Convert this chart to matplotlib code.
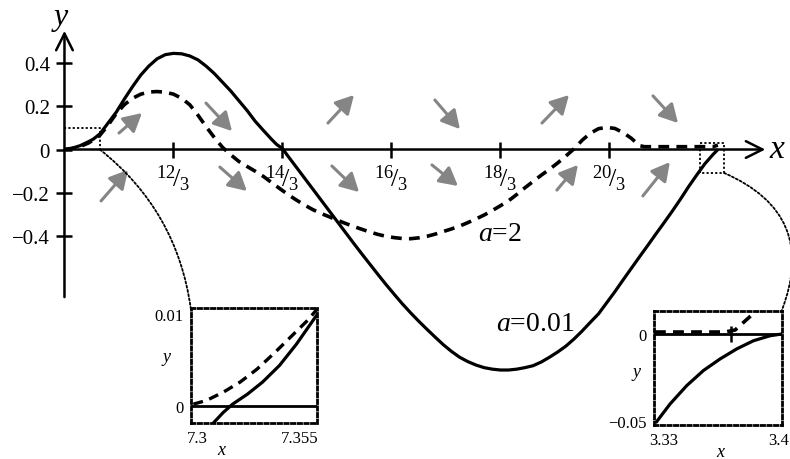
import matplotlib.pyplot as plt
from matplotlib.patches import ConnectionPatch

plt.rcParams['font.family'] = ['Liberation Serif', 'DejaVu Serif']
plt.rcParams['mathtext.fontset'] = 'custom'
plt.rcParams['mathtext.rm'] = 'Liberation Serif'
plt.rcParams['mathtext.it'] = 'Liberation Serif:italic'

# curve a=0.01 (solid)
x_small = [3.333, 3.38, 3.43, 3.48, 3.51, 3.55, 3.60, 3.65, 3.70, 3.75,
           3.80, 3.85, 3.90, 3.95, 4.00, 4.05, 4.10, 4.15, 4.20, 4.25,
           4.30, 4.35, 4.40, 4.45, 4.50, 4.55, 4.60, 4.63, 4.667, 4.70,
           4.75, 4.80, 4.85, 4.90, 4.95, 5.00, 5.05, 5.10, 5.15, 5.20,
           5.25, 5.30, 5.35, 5.40, 5.45, 5.50, 5.55, 5.60, 5.65, 5.70,
           5.75, 5.80, 5.85, 5.90, 5.95, 6.00, 6.05, 6.10, 6.15, 6.20,
           6.25, 6.30, 6.35, 6.40, 6.45, 6.50, 6.55, 6.60, 6.65, 6.70,
           6.75, 6.80, 6.85, 6.90, 6.95, 7.00, 7.05, 7.10, 7.15, 7.20,
           7.25, 7.30, 7.33]
y_small = [0.0, 0.006, 0.018, 0.036, 0.048, 0.072, 0.122, 0.172, 0.233, 0.290,
           0.343, 0.385, 0.418, 0.437, 0.443, 0.441, 0.431, 0.413, 0.384, 0.350,
           0.310, 0.270, 0.225, 0.180, 0.130, 0.088, 0.047, 0.024, 0.004, -0.030,
           -0.080, -0.130, -0.180, -0.230, -0.280, -0.330, -0.380, -0.430, -0.479, -0.527,
           -0.575, -0.622, -0.667, -0.711, -0.752, -0.791, -0.828, -0.864, -0.899, -0.930,
           -0.957, -0.977, -0.993, -1.005, -1.012, -1.016, -1.016, -1.012, -1.005, -0.996,
           -0.979, -0.957, -0.933, -0.906, -0.873, -0.836, -0.796, -0.757, -0.706, -0.655,
           -0.601, -0.548, -0.495, -0.443, -0.390, -0.338, -0.285, -0.230, -0.172, -0.118,
           -0.066, -0.023, 0.0]

# curve a=2 (dashed)
x_big = [3.333, 3.38, 3.43, 3.48, 3.51, 3.55, 3.60, 3.65, 3.70, 3.75,
         3.80, 3.85, 3.90, 3.95, 4.00, 4.05, 4.10, 4.15, 4.20, 4.25,
         4.30, 4.35, 4.40, 4.45, 4.50, 4.55, 4.60, 4.65, 4.70, 4.75,
         4.80, 4.85, 4.90, 4.95, 5.00, 5.05, 5.10, 5.15, 5.20, 5.25,
         5.30, 5.35, 5.40, 5.45, 5.50, 5.55, 5.60, 5.65, 5.70, 5.75,
         5.80, 5.85, 5.90, 5.95, 6.00, 6.05, 6.10, 6.15, 6.20, 6.25,
         6.30, 6.35, 6.40, 6.45, 6.50, 6.55, 6.60, 6.65, 6.70, 6.75,
         6.80, 6.85, 6.88, 7.30, 7.33]
y_big = [0.0, 0.005, 0.014, 0.030, 0.044, 0.066, 0.112, 0.166, 0.207, 0.236,
         0.255, 0.265, 0.267, 0.264, 0.255, 0.236, 0.206, 0.158, 0.105, 0.055,
         0.010, -0.024, -0.055, -0.078, -0.100, -0.124, -0.152, -0.180, -0.207, -0.232,
         -0.255, -0.276, -0.294, -0.309, -0.325, -0.340, -0.354, -0.367, -0.380, -0.391,
         -0.400, -0.406, -0.410, -0.411, -0.407, -0.400, -0.390, -0.378, -0.366, -0.353,
         -0.337, -0.320, -0.302, -0.281, -0.259, -0.236, -0.207, -0.176, -0.147, -0.118,
         -0.091, -0.062, -0.030, 0.003, 0.043, 0.075, 0.096, 0.102, 0.097, 0.078,
         0.052, 0.018, 0.013, 0.013, 0.02]

# direction arrows: tail and head
arrow_x0 = [3.667, 4.199, 4.945, 5.599, 6.254, 6.933, 3.557, 4.284, 4.969, 5.581, 6.345, 6.871]
arrow_y0 = [0.076, 0.214, 0.122, 0.228, 0.122, 0.247, -0.237, -0.081, -0.076, -0.071, -0.187, -0.214]
arrow_x1 = [3.807, 4.358, 5.104, 5.752, 6.419, 7.086, 3.722, 4.449, 5.135, 5.740, 6.474, 7.036]
arrow_y1 = [0.168, 0.085, 0.251, 0.094, 0.251, 0.122, -0.094, -0.191, -0.196, -0.168, -0.071, -0.058]

xticks = [4, 14 / 3, 16 / 3, 6, 20 / 3]
xtick_labels = [r'${}^{12}\!/_{3}$', r'${}^{14}\!/_{3}$', r'${}^{16}\!/_{3}$',
                r'${}^{18}\!/_{3}$', r'${}^{20}\!/_{3}$']
yticks = [0.4, 0.2, 0, -0.2, -0.4]
ytick_labels = ['0.4', '0.2', '0', '\u22120.2', '\u22120.4']

# left zoom inset
ins1_x_dash = [7.298, 7.305, 7.314, 7.323, 7.332, 7.341, 7.350, 7.359, 7.364]
ins1_y_dash = [0.0002, 0.0006, 0.0015, 0.0026, 0.0040, 0.0057, 0.0075, 0.0093, 0.0105]
ins1_x_solid = [7.308, 7.314, 7.319, 7.327, 7.335, 7.344, 7.353, 7.364]
ins1_y_solid = [-0.0020, -0.0007, 0.0002, 0.0013, 0.0026, 0.0044, 0.0067, 0.0099]

# right zoom inset
ins2_x_dash = [3.3245, 3.3674, 3.3735, 3.3796, 3.3870]
ins2_y_dash = [0.00115, 0.00115, 0.0023, 0.0075, 0.0138]
ins2_x_solid = [3.3255, 3.3337, 3.3439, 3.3541, 3.3643, 3.3745, 3.3847, 3.3949, 3.4021]
ins2_y_solid = [-0.0506, -0.0404, -0.0298, -0.0211, -0.0144, -0.0086, -0.0039, -0.0010, 0.0]
ins2_tick = 3.3708

gray = '#858585'
dash = (0, (3, 2))
dot = (0, (1.2, 1.2))

fig = plt.figure(figsize=(7.9, 4.6), dpi=100)
ax = fig.add_axes([0, 0, 1, 1])
ax.set_xlim(2.939, 7.771)
ax.set_ylim(-1.426, 0.6935)
for s in ax.spines.values():
    s.set_visible(False)
ax.spines['left'].set_position(('data', 10 / 3))
ax.spines['bottom'].set_position(('data', 0))
ax.set_xticks(xticks, xtick_labels, fontsize=19)
ax.set_yticks(yticks, ytick_labels, fontsize=15)
ax.tick_params(direction='inout', length=11, width=1.8)
ax.tick_params(axis='x', pad=4)
ax.tick_params(axis='y', pad=5)

# axes with open arrow heads
ax.annotate('', xy=(7.62, 0), xytext=(10 / 3, 0),
            arrowprops=dict(arrowstyle='->,head_length=0.6,head_width=0.3', lw=1.8,
                            color='k', mutation_scale=20, shrinkA=0, shrinkB=0))
ax.annotate('', xy=(10 / 3, 0.547), xytext=(10 / 3, -0.68),
            arrowprops=dict(arrowstyle='->,head_length=0.6,head_width=0.3', lw=1.8,
                            color='k', mutation_scale=20, shrinkA=0, shrinkB=0))
ax.text(7.688, 0.005, 'x', style='italic', fontsize=24, ha='center', va='center')
ax.text(3.31, 0.615, 'y', style='italic', fontsize=23, ha='center', va='center')

ax.plot(x_small, y_small, color='k', lw=2.3, solid_capstyle='butt')
ax.plot(x_big, y_big, color='k', lw=2.6, linestyle=dash)

for x0, y0, x1, y1 in zip(arrow_x0, arrow_y0, arrow_x1, arrow_y1):
    ax.annotate('', xy=(x1, y1), xytext=(x0, y0),
                arrowprops=dict(arrowstyle='-|>,head_length=0.55,head_width=0.3', lw=2.2,
                                color=gray, mutation_scale=20, shrinkA=0, shrinkB=0))

ax.text(5.86, -0.415, r'$a$=2', fontsize=20, ha='left', va='baseline')
ax.text(5.975, -0.83, r'$a$=0.01', fontsize=20, ha='left', va='baseline')

# zoom boxes on main plot
ax.plot([10 / 3, 3.55, 3.55], [0.099, 0.099, 0], color='k', lw=1.3, linestyle=dot)
ax.plot([7.221, 7.368, 7.368, 7.221, 7.221], [0.030, 0.030, -0.108, -0.108, 0.030],
        color='k', lw=1.3, linestyle=dot)

# left inset
ins1 = fig.add_axes([190.7 / 790, 1 - 424 / 460, 126 / 790, 115 / 460])
ins1.set_xlim(7.2966, 7.3639)
ins1.set_ylim(-0.00185, 0.01065)
ins1.axhline(0, color='k', lw=2)
ins1.plot(ins1_x_dash, ins1_y_dash, color='k', lw=2.4, linestyle=dash)
ins1.plot(ins1_x_solid, ins1_y_solid, color='k', lw=2.3)
ins1.set_xticks([7.3, 7.355], ['7.3', '7.355'], fontsize=12)
ins1.set_yticks([0, 0.01], ['0', '0.01'], fontsize=12)
ins1.tick_params(length=0, pad=5)
ins1.set_xlabel('x', style='italic', fontsize=13)
ins1.xaxis.set_label_coords(0.246, -0.16)
ins1.set_ylabel('y', style='italic', fontsize=13, rotation=0)
ins1.yaxis.set_label_coords(-0.19, 0.5)

# right inset
ins2 = fig.add_axes([654 / 790, 1 - 426 / 460, 127.7 / 790, 114.3 / 460])
ins2.set_xlim(3.3239, 3.402)
ins2.set_ylim(-0.0525, 0.01344)
ins2.axhline(0, color='k', lw=2)
ins2.plot(ins2_x_dash, ins2_y_dash, color='k', lw=2.6, linestyle=dash)
ins2.plot(ins2_x_solid, ins2_y_solid, color='k', lw=2.3)
ins2.plot(ins2_tick, 0, marker='|', markersize=12, markeredgewidth=1.8, color='k')
ins2.set_xticks([3.33, 3.4], ['3.33', '3.4'], fontsize=12)
ins2.set_yticks([0, -0.05], ['0', '\u22120.05'], fontsize=12)
ins2.tick_params(length=0, pad=5)
ins2.set_xlabel('x', style='italic', fontsize=13)
ins2.xaxis.set_label_coords(0.52, -0.155)
ins2.set_ylabel('y', style='italic', fontsize=13, rotation=0)
ins2.yaxis.set_label_coords(-0.14, 0.39)

for ins in (ins1, ins2):
    ins.patch.set_alpha(0)
    for s in ins.spines.values():
        s.set_linestyle(dot)
        s.set_linewidth(2)

# dotted connectors
con1 = ConnectionPatch(xyA=(3.55, 0), coordsA=ax.transData, xyB=(0, 1), coordsB=ins1.transAxes,
                       connectionstyle='arc3,rad=-0.2', color='k', lw=1.3, linestyle=dot)
con2 = ConnectionPatch(xyA=(7.368, -0.108), coordsA=ax.transData, xyB=(1, 1), coordsB=ins2.transAxes,
                       connectionstyle='arc3,rad=-0.48', color='k', lw=1.3, linestyle=dot)
fig.add_artist(con1)
fig.add_artist(con2)

fig.savefig('out.png', dpi=100)
